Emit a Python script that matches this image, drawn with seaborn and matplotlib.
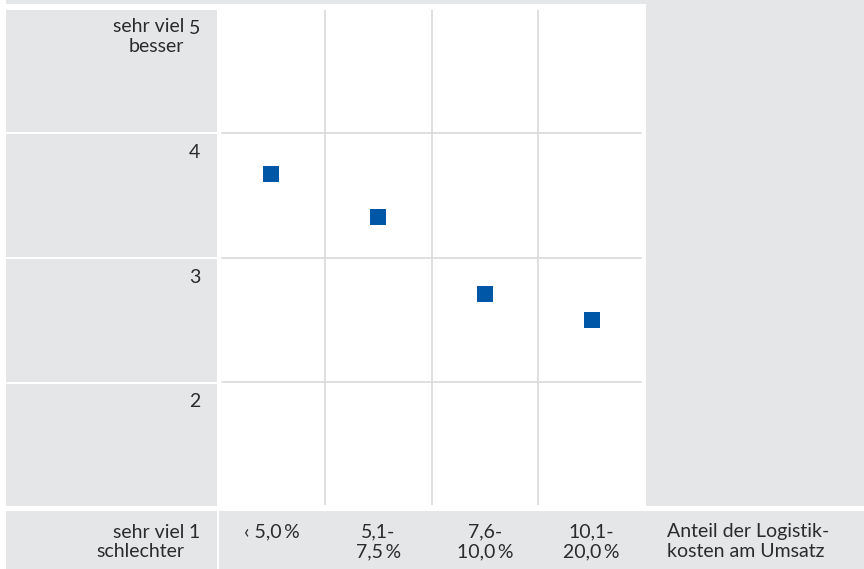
import matplotlib
matplotlib.use("Agg")
import matplotlib.pyplot as plt
import matplotlib.transforms as mtransforms
from matplotlib.patches import Rectangle
import seaborn as sns

# -------------------------------
# Data
# -------------------------------

categories = ["‹ 5,0\u2009%", "5,1-\n7,5\u2009%", "7,6-\n10,0\u2009%", "10,1-\n20,0\u2009%"]
scores = [3.67, 3.33, 2.71, 2.50]
scale_values = [5, 4, 3, 2, 1]
top_label = "sehr viel\nbesser"
bottom_label = "sehr viel\nschlechter"
x_title = "Anteil der Logistik-\nkosten am Umsatz"

# -------------------------------
# Style
# -------------------------------

GREY = "#e5e6e8"
BLUE = "#0057a8"
GRID = "#d9d9d9"
TEXT = "#2b2b2b"
W, H = 864, 569
LS = 1.2

sns.set_theme(style="white")
plt.rcParams["font.family"] = ["Lato", "DejaVu Sans"]
plt.rcParams["font.size"] = 14
plt.rcParams["text.color"] = TEXT


def fx(px):
    return px / W


def fy(py):
    return 1 - py / H


fig = plt.figure(figsize=(W / 100, H / 100), dpi=100, facecolor="white")
ax = fig.add_axes([fx(218), fy(505), (645 - 218) / W, (505 - 10) / H])
ax.set_facecolor("none")

# grey background cells (figure pixels, y from top)
cells = [
    (6, 0, 864, 4),
    (646, 0, 864, 506),
    (6, 9.5, 216.5, 131.5),
    (6, 134, 216.5, 256.5),
    (6, 259, 216.5, 381.5),
    (6, 384, 216.5, 506),
    (6, 511, 217, 569),
    (218.5, 511, 864, 569),
]
for x0, y0, x1, y1 in cells:
    fig.add_artist(Rectangle((fx(x0), fy(y1)), (x1 - x0) / W, (y1 - y0) / H,
                             transform=fig.transFigure, color=GREY, lw=0, zorder=0))

# -------------------------------
# Plot
# -------------------------------

sns.scatterplot(x=categories, y=scores, marker="s", s=132, color=BLUE,
                linewidth=0, ax=ax, zorder=3)

ax.set_xlim(-0.5, len(categories) - 0.5)
ax.set_ylim(1.015, 4.99)

# grid: vertical between categories, horizontal at scale steps
ax.set_xticks([i + 0.5 for i in range(len(categories) - 1)], minor=True)
ax.grid(which="minor", axis="x", color=GRID, lw=1.2)
for v in scale_values[1:-1]:
    ax.axhline(v, xmin=4 / 427, xmax=1 - 4 / 427, color=GRID, lw=1.2, zorder=1)

ax.set_xticks(range(len(categories)), categories)
ax.tick_params(axis="x", which="both", length=0, pad=13.5, labelsize=14,
               labelcolor=TEXT)
for lab in ax.get_xticklabels():
    lab.set_linespacing(LS)
ax.set_yticks([])
ax.set_xlabel("")
ax.set_ylabel("")
for s in ax.spines.values():
    s.set_visible(False)

# scale numbers on the left (the lowest one sits in the bottom row)
trans = mtransforms.blended_transform_factory(fig.transFigure, ax.transData)
for v in scale_values:
    shift = -17 if v == min(scale_values) else -11
    t = mtransforms.offset_copy(trans, fig=fig, x=0, y=shift, units="dots")
    ax.text(fx(200), v, str(v), transform=t, ha="right", va="top",
            clip_on=False)

fig.text(fx(184), fy(18.5), top_label, ha="right", va="top", linespacing=LS)
fig.text(fx(184), fy(523.5), bottom_label, ha="right", va="top", linespacing=LS)
fig.text(fx(667), fy(523.5), x_title, ha="left", va="top", linespacing=LS)

fig.savefig("out.png", dpi=100)
plt.close(fig)
